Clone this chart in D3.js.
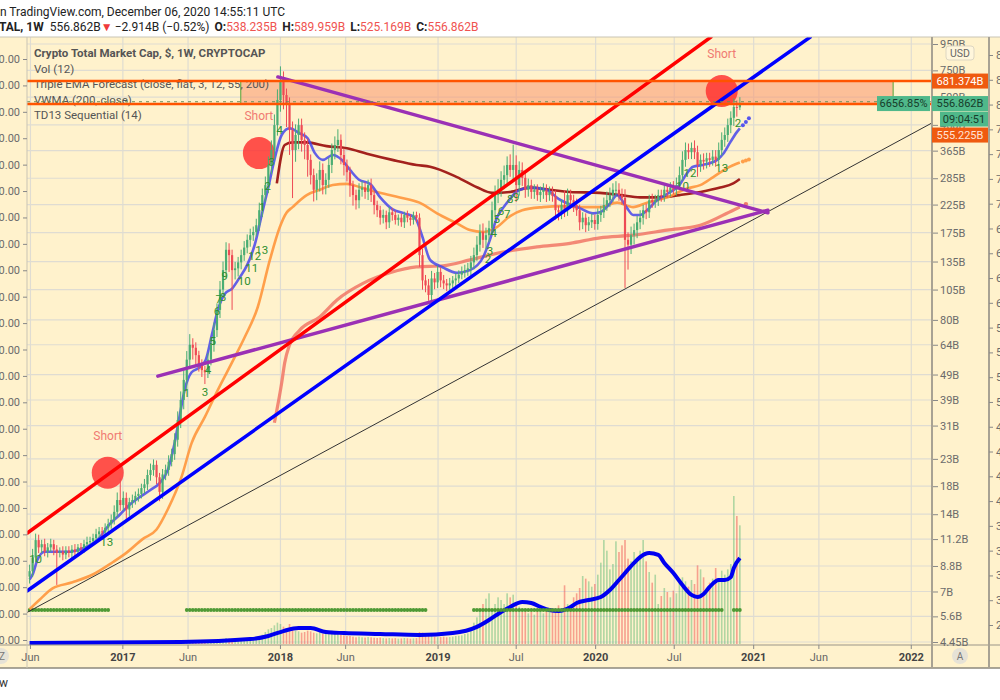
<!DOCTYPE html>
<html>
<head>
<meta charset="utf-8">
<title>Crypto Total Market Cap</title>
<script src="https://cdnjs.cloudflare.com/ajax/libs/d3/7.8.5/d3.min.js"></script>
<style>
  body { margin: 0; background: #fff; }
  svg { display: block; font-family: Roboto, "Liberation Sans", sans-serif; }
</style>
</head>
<body>
<svg id="chart"></svg>
<script>
// Weekly candles, CRYPTOCAP:TOTAL, values in billions USD
var firstWeek = "2016-05-30";
var firstOpen = 8.0;
var closes = [
  8.4, 9.5, 11.1, 10.4, 10.7, 10.0, 10.4, 10.7, 10.2, 9.9,
  10.0, 9.75, 10.1, 9.9, 10.2, 10.0, 10.4, 10.3, 10.7, 10.9,
  11.0, 11.3, 11.7, 12.0, 11.9, 12.4, 12.8, 13.3, 14.3, 15.9,
  15.2, 16.2, 14.6, 15.6, 15.9, 16.5, 16.8, 17.7, 18.3, 19.9,
  20.8, 21.8, 19.5, 17.1, 20.0, 20.8, 22.4, 24.0, 27.3, 32.6,
  39, 46.7, 56, 64, 62.3, 58.3, 53.5, 51, 50, 56,
  64, 73, 87.5, 105, 125, 150, 143, 125, 127, 134,
  143, 153, 164, 171, 176, 187, 214, 245, 268, 321,
  367, 459, 575, 688, 601, 550, 439, 367, 420, 459,
  402, 384, 336, 293, 257, 281, 307, 268, 281, 321,
  367, 384, 402, 351, 321, 301, 268, 245, 234, 257,
  262, 252, 268, 245, 224, 214, 200, 205, 192, 210,
  205, 196, 200, 192, 205, 200, 196, 205, 200, 143,
  114, 109, 100, 116, 112, 123, 114, 111, 109, 111,
  114, 116, 120, 123, 125, 127, 134, 143, 157, 176,
  164, 171, 182, 214, 245, 257, 281, 293, 321, 307,
  321, 268, 307, 286, 257, 268, 252, 257, 245, 252,
  257, 245, 252, 243, 214, 210, 224, 214, 245, 234,
  224, 214, 192, 200, 187, 192, 196, 189, 205, 210,
  224, 234, 245, 257, 257, 245, 239, 164, 157, 171,
  179, 192, 200, 214, 210, 234, 230, 234, 245, 243,
  257, 252, 262, 257, 268, 293, 336, 367, 360, 374,
  360, 321, 336, 331, 341, 336, 346, 336, 367, 402,
  420, 459, 490, 540, 538.235, 556.862
];
// upper / lower wick, percent beyond the candle body
var hiPct = [
  6,8,6,5,4,5,4,5,4,4, 4,5,4,4,4,5,3,4,4,5, 4,4,5,4,4,4,5,5,6,7,
  22,6,5,4,5,4,5,4,5,5, 6,5,4,4,5,5,6,5,6,8, 8,9,8,10,6,5,4,5,4,6,
  6,7,6,8,8,7,6,5,6,5, 5,6,5,6,5,6,7,6,8,8, 9,10,10,13,8,6,7,8,10,6,
  6,7,6,5,6,6,8,6,6,7, 6,8,10,5,6,5,5,4,5,6, 6,5,5,6,4,4,4,5,4,5,
  4,4,3,4,3,4,3,3,3,4, 6,5,6,7,5,6,4,5,4,5, 4,5,4,5,5,5,6,7,8,7,
  8,7,7,8,9,10,8,9,8,10, 20,9,8,7,6,6,5,5,5,5, 6,5,5,5,5,4,5,14,6,5,
  5,6,5,5,4,5,6,5,6,6, 7,8,7,6,8,6,6,8,7,8, 6,6,7,5,6,5,6,5,5,5,
  5,5,5,6,7,8,8,7,6,5, 7,6,5,6,5,5,6,6,7,7, 7,6,6,8,6,5.9
];
var loPct = [
  6,5,4,5,5,4,5,4,5,25, 4,5,4,4,5,4,4,3,4,4, 4,3,4,4,4,4,4,4,4,5,
  5,5,8,6,5,4,5,4,5,5, 5,5,6,8,6,5,5,4,5,6, 7,8,9,8,10,8,6,6,10,5,
  5,6,6,7,6,7,14,30,8,7, 6,5,5,6,5,4,5,6,6,7, 8,8,9,10,12,18,20,35,10,12,
  10,12,14,8,10,9,10,8,8,7, 7,8,6,8,9,8,10,9,8,7, 6,6,7,6,8,6,6,5,6,5,
  5,4,5,4,5,4,5,4,4,10, 8,6,5,6,6,5,6,5,5,4, 4,5,4,4,5,5,6,6,5,6,
  7,8,6,5,6,7,6,8,7,6, 8,14,9,7,7,6,6,6,5,6, 6,6,5,5,8,7,6,6,5,6,
  6,5,7,6,6,5,5,5,5,6, 5,5,6,6,6,5,6,35,20,8, 8,7,6,6,6,5,5,5,5,5,
  5,5,4,4,5,4,5,6,6,6, 6,10,6,7,6,6,5,6,5,5, 6,6,7,7,8,2.4
];
// weekly volume, billions USD
var volumes = [
  3,4,4,3,3,3,4,3,3,4, 3,3,3,4,3,3,4,4,4,5, 5,5,6,6,5,6,7,7,8,10,
  10,9,8,7,7,7,8,8,9,10, 10,11,12,11,10,11,13,15,18,22, 26,28,30,28,26,24,22,20,19,21,
  24,26,30,34,38,45,40,38,36,34, 33,34,36,38,40,45,55,70,90,110, 120,140,160,150,130,120,150,115,100,95,
  85,90,100,95,85,80,90,75,80,90, 100,90,80,70,65,60,60,55,50,55, 50,48,52,50,47,45,48,44,42,45,
  42,44,40,42,45,43,40,42,44,90, 85,70,65,60,55,50,52,55,50,52, 55,60,62,65,75,80,110,160,200,260,
  300,340,380,260,300,350,330,300,380,350, 370,300,280,240,250,230,240,220,260,250, 230,260,240,250,240,290,260,440,300,290,
  350,380,420,510,490,470,430,450,520,610, 780,700,560,600,770,690,740,780,640,620, 690,640,700,780,620,540,460,520,300,360,
  420,390,350,400,380,460,500,470,430,480, 450,590,560,500,420,460,490,570,480,550, 520,560,600,1110,960,890
];

// indicator lines (week index, value)
var ema12Weeks = [0,1,2.6,5,13,16.5,20,23,26.5,30,33,36.4,40,43,45.7,48,49.7,51.3,53.6,56.3,58.3,60.3,62.3,64.6,67,69.5,72,74.5,76.8,78.8,81,83.4,86,89.4,92,94.4,97,100.3,103.3,106,109,112.6,116,120,124,127.5,129.8,132.5,136.8,141.4,145.7,150,152.3,154.6,156.6,159,161,165.6,171,175,182,186.4,188.7,192,194.4,196,197.7,199.7,202,204.3,207.6,212,215,217.5,219.5,222.8,227.5,229.5,231.8,234,235];
var ema12Vals = [7.8,8.15,9.3,10.0,10.0,10.2,10.6,11.3,12.8,14.0,15.2,16.3,17.4,18.5,20.8,26.6,34.1,42.7,50,52.3,56,69.9,87.5,101,106,117,131,157,205,257,336,420,446,426,408,357,336,351,336,307,281,271,240,216,208,200,171,137,128,122,125,140,164,200,218,237,252,262,257,237,218,208,210,227,245,234,218,205,205,214,234,252,268,298,316,321,336,355,393,431,446];
var ema55Weeks = [0,3.3,7.6,14.2,20.9,27.5,32,37.4,42,45.7,50.3,53.6,58,62.3,66.9,71.2,75.5,79.5,82.8,85,87,91.7,96,100.3,105,109.3,115.9,122.5,129,134.8,141.4,145.7,150,154.6,159,163,169.9,176.5,182,188.7,194.4,199.7,204.3,210.9,217.5,221.9,226.2,230.8,235];
var ema55Vals = [5.97,6.5,7.2,7.6,8.15,9.1,9.9,11.2,12.2,14.6,19.6,26.5,33.5,42.7,54.4,68.6,89.8,137,184,209,220,245,257,268,271,263,250,240,229,208,190,179,176,184,203,214,220,222,220,220,229,220,229,240,260,268,288,312,328];
var ema200Weeks = [81.8,84.4,87,91.7,98.3,105,111.6,120,128,132.5,141.4,148,153,159,165.6,172,178.8,188.7,195.4,202,208.6,215,222,228.5,232.8,235];
var ema200Vals = [272,384,393,393,380,373,355,336,321,316,288,263,250,252,262,257,252,250,245,240,240,245,252,262,272,283];
var vwmaWeeks = [81,83.4,84.4,86,89.4,96,101.7,110.3,119.2,128,136.8,145.7,156.6,167.9,178.8,188.7,199.7,210.9,221.9,232.8,235];
var vwmaVals = [31.8,45.4,54.4,63.9,73,82.2,95.7,111,122,128.6,130,137,147,154,159,167,171,179,187,214,220];
var volMaWeeks = [0,50,73,79,84,89,93,98,104,116,129,140,148,152,156,159,163,166,169,172,175,179,181,185,189,192,195,200,202,205,208,210,213,216,219,221,223,225,228,230,232,233,235];
var volMaVals = [8,15,37,60,97,120,120,90,82,75,68,82,128,180,240,278,315,308,278,255,248,278,308,330,352,405,480,608,652,682,668,608,532,442,368,352,375,428,480,480,502,570,645];
// forecast dots of the Triple EMA script
var fcWeeks = [236, 237, 238];
var fcFast = [458, 472, 488];
var fcSlow = [331, 334, 337];

// TD sequential counts
var tdWeeks = [2,25.5,52,58,59,60.6,62,62.6,64,64.6,71,73.5,74.5,76.8,77,78.8,80,82.8,151.7,152.3,153.6,154.6,156,158,159,161,216,218.5,229,234.4];
var tdVals = [9.4,10.9,41.5,41.9,51,66.2,86.6,96.5,98.4,118.6,113,127,142,150,221,266,329,439,138,148,174,198,212,207,237,241,265,299,313,468];
var tdLabels = ["10","13","1","3","4","5","6","7","8","9","10","11","12","13","1","2","3","4","2","3","4","5","6","7","8","9","10","12","13","2"];
var tdDotLevel = 5.93;
var tdDotStart = [0, 52, 78, 147, 233];
var tdDotEnd = [26, 77, 131, 229, 235];

// drawings
var trendNames = ["black", "purpleUp", "purpleDown", "red", "blue"];
var trendFrom = [["2016-05-24", 5.8], ["2017-03-23", 48.3], ["2017-12-26", 707], ["2016-05-24", 11.8], ["2016-05-24", 7.03]];
var trendTo = [["2022-02-18", 468], ["2021-02-03", 214], ["2021-02-03", 209], ["2020-09-24", 1011], ["2021-05-12", 1011]];
var shortDates = ["2016-11-27", "2017-11-12", "2020-10-19"];
var shortVals = [20.3, 357, 623];
var zoneStart = "2017-10-01", zoneEnd = "2021-11-20";
var levelHigh = 681.374, levelLow = 555.225;
var priceLine = 566;
var lastPrice = 556.862;

// axes
var priceTicks = [950, 750, 590, 460, 365, 285, 225, 175, 135, 105, 80, 64, 49, 39, 31, 23, 18, 14, 11.2, 8.8, 7, 5.6, 4.45];
var timeTickDates = ["2016-06-01","2017-01-01","2017-06-01","2018-01-01","2018-06-01","2019-01-01","2019-07-01","2020-01-01","2020-07-01","2021-01-01","2021-06-01","2022-01-01"];
var timeTickLabels = ["Jun","2017","Jun","2018","Jun","2019","Jul","2020","Jul","2021","Jun","2022"];

// ---- layout ----
var W = 1000, H = 700;
var plot = {left: 27, right: 932, top: 37, bottom: 645};
var DAY = 864e5;
var parse = d3.utcParse("%Y-%m-%d");
var week0 = parse(firstWeek).getTime();
function weekDate(i) { return new Date(week0 + i * 7 * DAY); }

var x = d3.scaleUtc()
    .domain([parse("2016-05-24"), parse("2022-02-18")])
    .range([plot.left, plot.right]);
var y = d3.scaleLog().domain([950, 4.45]).range([44, 642]);
var yVol = d3.scaleLinear().domain([0, 1200]).range([644, 484]);

var svg = d3.select("#chart").attr("width", W).attr("height", H);
var defs = svg.append("defs");
defs.append("clipPath").attr("id", "plotClip")
  .append("rect")
  .attr("x", plot.left).attr("y", plot.top)
  .attr("width", plot.right - plot.left).attr("height", plot.bottom - plot.top);
defs.append("clipPath").attr("id", "axisClip")
  .append("rect").attr("x", plot.right).attr("y", plot.top + 1).attr("width", 57).attr("height", 608);

// background
svg.append("rect").attr("x", 0).attr("y", plot.top)
  .attr("width", W).attr("height", 668 - plot.top).attr("fill", "#fff2cc");

// grid
var grid = svg.append("g").attr("clip-path", "url(#plotClip)");
grid.selectAll(".hg").data(priceTicks).enter().append("line")
  .attr("x1", plot.left).attr("x2", plot.right)
  .attr("y1", function(d) { return y(d); }).attr("y2", function(d) { return y(d); })
  .attr("stroke", "#dfdcd2").attr("stroke-width", 1.2);
grid.selectAll(".vg").data(timeTickDates).enter().append("line")
  .attr("x1", function(d) { return x(parse(d)); }).attr("x2", function(d) { return x(parse(d)); })
  .attr("y1", plot.top).attr("y2", plot.bottom)
  .attr("stroke", "#dfdcd2").attr("stroke-width", 1.2);

// candles data
var candles = closes.map(function(c, i) {
  var o = i === 0 ? firstOpen : closes[i - 1];
  var top = Math.max(o, c), bot = Math.min(o, c);
  return {
    date: weekDate(i), open: o, close: c,
    high: top * (1 + hiPct[i] / 100), low: bot * (1 - loPct[i] / 100),
    volume: volumes[i], up: c >= o
  };
});

var g = svg.append("g").attr("clip-path", "url(#plotClip)");

// zone (position tool)
g.append("rect")
  .attr("x", x(parse(zoneStart)))
  .attr("y", y(levelHigh))
  .attr("width", x(parse(zoneEnd)) - x(parse(zoneStart)))
  .attr("height", y(levelLow) - y(levelHigh))
  .attr("fill", "rgba(250,150,110,0.55)")
  .attr("stroke", "#6fae4c").attr("stroke-width", 1.2);

// volume
g.selectAll(".vol").data(candles).enter().append("rect")
  .attr("x", function(d) { return x(d.date) - 0.8; })
  .attr("width", 1.6)
  .attr("y", function(d) { return yVol(d.volume); })
  .attr("height", function(d) { return yVol(0) - yVol(d.volume); })
  .attr("fill", function(d) { return d.up ? "rgba(80,180,110,0.45)" : "rgba(240,80,80,0.5)"; });

function pts(weeks, vals) {
  return weeks.map(function(w, i) { return [weekDate(w), vals[i]]; });
}
var volLine = d3.line()
  .x(function(d) { return x(d[0]); })
  .y(function(d) { return yVol(d[1]); })
  .curve(d3.curveMonotoneX);
g.append("path").datum(pts(volMaWeeks, volMaVals))
  .attr("d", volLine).attr("fill", "none")
  .attr("stroke", "#0000f0").attr("stroke-width", 4).attr("stroke-linejoin", "round");

// TD dots row
var dotWeeks = [];
tdDotStart.forEach(function(s, k) {
  for (var i = s; i <= tdDotEnd[k]; i++) dotWeeks.push(i);
});
g.selectAll(".tdd").data(dotWeeks).enter().append("circle")
  .attr("cx", function(d) { return x(weekDate(d)); })
  .attr("cy", y(tdDotLevel))
  .attr("r", 1.9)
  .attr("fill", "#4f9a35");

// moving averages
var priceLineGen = d3.line()
  .x(function(d) { return x(d[0]); })
  .y(function(d) { return y(d[1]); })
  .curve(d3.curveMonotoneX);
var maSpecs = [
  {w: vwmaWeeks, v: vwmaVals, c: "rgba(240,110,95,0.8)", sw: 3.2},
  {w: ema200Weeks, v: ema200Vals, c: "#a3211d", sw: 2.6},
  {w: ema55Weeks, v: ema55Vals, c: "rgba(255,150,60,0.9)", sw: 2.6},
  {w: ema12Weeks, v: ema12Vals, c: "rgba(70,70,235,0.85)", sw: 2.6}
];
maSpecs.forEach(function(s) {
  g.append("path").datum(pts(s.w, s.v))
    .attr("d", priceLineGen).attr("fill", "none")
    .attr("stroke", s.c).attr("stroke-width", s.sw).attr("stroke-linejoin", "round");
});
g.selectAll(".fcf").data(fcWeeks).enter().append("circle")
  .attr("cx", function(d) { return x(weekDate(d)); })
  .attr("cy", function(d, i) { return y(fcFast[i]); })
  .attr("r", 2).attr("fill", "#5555ee");
g.selectAll(".fcs").data(fcWeeks).enter().append("circle")
  .attr("cx", function(d) { return x(weekDate(d)); })
  .attr("cy", function(d, i) { return y(fcSlow[i]); })
  .attr("r", 2).attr("fill", "#ffa04a");
g.append("circle").attr("cx", x(weekDate(237))).attr("cy", y(226))
  .attr("r", 2.2).attr("fill", "#f07a6a");

// short circles and labels
var shorts = shortDates.map(function(d, i) { return {date: parse(d), value: shortVals[i]}; });
g.selectAll(".shortTxt").data(shorts).enter().append("text")
  .attr("x", function(d) { return x(d.date); })
  .attr("y", function(d) { return y(d.value) - 33; })
  .attr("text-anchor", "middle")
  .attr("font-size", 12)
  .attr("fill", "#f07a72")
  .text("Short");
g.selectAll(".shortC").data(shorts).enter().append("circle")
  .attr("cx", function(d) { return x(d.date); })
  .attr("cy", function(d) { return y(d.value); })
  .attr("r", 16)
  .attr("fill", "rgba(255,45,45,0.82)");

// candles
var cg = g.append("g");
cg.selectAll(".wick").data(candles).enter().append("line")
  .attr("x1", function(d) { return x(d.date); }).attr("x2", function(d) { return x(d.date); })
  .attr("y1", function(d) { return y(d.high); }).attr("y2", function(d) { return y(d.low); })
  .attr("stroke", function(d) { return d.up ? "#4aad73" : "#ee4a55"; })
  .attr("stroke-width", 1);
cg.selectAll(".body").data(candles).enter().append("rect")
  .attr("x", function(d) { return x(d.date) - 1.1; })
  .attr("width", 2.2)
  .attr("y", function(d) { return y(Math.max(d.open, d.close)); })
  .attr("height", function(d) { return Math.max(1, Math.abs(y(d.open) - y(d.close))); })
  .attr("fill", function(d) { return d.up ? "#4aad73" : "#ee4a55"; });

// TD counts
g.selectAll(".td").data(tdLabels).enter().append("text")
  .attr("x", function(d, i) { return x(weekDate(tdWeeks[i])); })
  .attr("y", function(d, i) { return y(tdVals[i]); })
  .attr("dy", "0.35em")
  .attr("text-anchor", "middle")
  .attr("font-size", 11.5)
  .attr("fill", "#2f8f2f")
  .text(function(d) { return d; });

// trend lines
var trendStyle = {
  black: {c: "#333", w: 1},
  purpleUp: {c: "#9b30b5", w: 3.5},
  purpleDown: {c: "#9b30b5", w: 3.5},
  red: {c: "#ff0000", w: 3.5},
  blue: {c: "#0000ff", w: 3.5}
};
trendNames.forEach(function(n, i) {
  var a = trendFrom[i], b = trendTo[i];
  g.append("line")
    .attr("x1", x(parse(a[0]))).attr("y1", y(a[1]))
    .attr("x2", x(parse(b[0]))).attr("y2", y(b[1]))
    .attr("stroke", trendStyle[n].c).attr("stroke-width", trendStyle[n].w)
    .attr("stroke-linecap", "round");
});

// legend
var legend = svg.append("g").attr("font-size", 11.5).attr("fill", "#555");
var legendLines = ["Crypto Total Market Cap, $, 1W, CRYPTOCAP", "Vol (12)",
  "Triple EMA Forecast (close, flat, 3, 12, 55, 200)", "VWMA (200, close)", "TD13 Sequential (14)"];
legend.selectAll("text").data(legendLines).enter().append("text")
  .attr("x", 34)
  .attr("y", function(d, i) { return 57 + i * 15.5; })
  .attr("font-weight", function(d, i) { return i === 0 ? "bold" : "normal"; })
  .text(function(d) { return d; });

// horizontal levels + price line
var lv = svg.append("g").attr("clip-path", "url(#plotClip)");
lv.append("line")
  .attr("x1", plot.left).attr("x2", plot.right)
  .attr("y1", y(priceLine)).attr("y2", y(priceLine))
  .attr("stroke", "#6a8d5a").attr("stroke-width", 1).attr("stroke-dasharray", "3,4");
[levelHigh, levelLow].forEach(function(v) {
  lv.append("line")
    .attr("x1", plot.left).attr("x2", plot.right)
    .attr("y1", y(v)).attr("y2", y(v))
    .attr("stroke", "#ff5400").attr("stroke-width", 2.5);
});

// frame lines
svg.append("line").attr("x1", 0).attr("x2", W).attr("y1", plot.top).attr("y2", plot.top)
  .attr("stroke", "#c9c4b4").attr("stroke-width", 1);
svg.append("line").attr("x1", 0).attr("x2", W).attr("y1", plot.bottom).attr("y2", plot.bottom)
  .attr("stroke", "#9a9588").attr("stroke-width", 1);
svg.append("line").attr("x1", 0).attr("x2", W).attr("y1", 668).attr("y2", 668)
  .attr("stroke", "#8d887c").attr("stroke-width", 1.5);
[plot.left, plot.right, 989].forEach(function(xx, i) {
  svg.append("line").attr("x1", xx).attr("x2", xx).attr("y1", plot.top).attr("y2", 668)
    .attr("stroke", i === 0 ? "#c9c4b4" : "#a8a293").attr("stroke-width", i === 0 ? 1 : 2);
});

// right price axis
var yAxis = d3.axisRight(y).tickValues(priceTicks)
  .tickFormat(function(d) { return d + "B"; }).tickSize(5);
var ya = svg.append("g").attr("clip-path", "url(#axisClip)")
  .append("g").attr("transform", "translate(" + plot.right + ",0)")
  .call(yAxis);
ya.select(".domain").remove();
ya.selectAll("line").attr("stroke", "#888").attr("transform", "translate(1,0)");
ya.selectAll("text").attr("fill", "#6b6b6b").attr("font-size", 11)
  .attr("font-family", "Roboto, sans-serif");

// left axis (cut off)
var yLeft = d3.scaleLinear().domain([1200, 2300]).range([640, 59]);
var la = svg.append("g").attr("transform", "translate(" + plot.left + ",0)")
  .call(d3.axisLeft(yLeft).tickValues(d3.range(1200, 2301, 50))
    .tickFormat(function(d) { return d.toFixed(2); }).tickSize(4));
la.select(".domain").remove();
la.selectAll("line").attr("stroke", "#888");
la.selectAll("text").attr("fill", "#6b6b6b").attr("font-size", 11).attr("font-family", "Roboto, sans-serif");

// far right axis (cut off)
var yFar = d3.scaleLinear().domain([27.5, 85]).range([625, 55]);
var fa = svg.append("g").attr("transform", "translate(989,0)")
  .call(d3.axisRight(yFar).tickValues(d3.range(27.5, 85.1, 2.5))
    .tickFormat(function(d) { return d.toFixed(2); }).tickSize(4));
fa.select(".domain").remove();
fa.selectAll("line").attr("stroke", "#888");
fa.selectAll("text").attr("fill", "#6b6b6b").attr("font-size", 11).attr("font-family", "Roboto, sans-serif");

// USD badge
svg.append("rect").attr("x", 946).attr("y", 46).attr("width", 28).attr("height", 14).attr("rx", 3)
  .attr("fill", "#fff6dc").attr("stroke", "#ddd6c2");
svg.append("text").attr("x", 960).attr("y", 57).attr("text-anchor", "middle")
  .attr("font-size", 10.5).attr("fill", "#666").text("USD");

// price tags
function tag(x0, w, yc, fill, color, txt) {
  svg.append("rect").attr("x", x0).attr("y", yc - 7.5).attr("width", w).attr("height", 15).attr("fill", fill);
  svg.append("text").attr("x", x0 + w / 2).attr("y", yc).attr("dy", "0.35em")
    .attr("text-anchor", "middle").attr("font-size", 11).attr("fill", color).text(txt);
}
var yLast = y(lastPrice);
tag(plot.right, 56, y(levelHigh), "#ef5a10", "#fff", levelHigh.toFixed(3) + "B");
tag(plot.right, 56, yLast, "#4fb88a", "#173d2b", lastPrice.toFixed(3) + "B");
tag(plot.right + 8, 48, yLast + 15.5, "#4fb88a", "#173d2b", "09:04:51");
tag(plot.right, 56, yLast + 31.5, "#ef5a10", "#ffe3d6", levelLow.toFixed(3) + "B");
tag(877, 53, yLast, "#4fb88a", "#173d2b", "6656.85%");

// time axis
var ta = svg.append("g").attr("font-size", 11);
ta.selectAll("text").data(timeTickDates).enter().append("text")
  .attr("x", function(d) { return x(parse(d)); })
  .attr("y", 661)
  .attr("text-anchor", "middle")
  .attr("font-weight", function(d, i) { return /^\d/.test(timeTickLabels[i]) ? "bold" : "normal"; })
  .attr("fill", function(d, i) { return /^\d/.test(timeTickLabels[i]) ? "#444" : "#666"; })
  .text(function(d, i) { return timeTickLabels[i]; });
ta.selectAll("line").data(timeTickDates).enter().append("line")
  .attr("x1", function(d) { return x(parse(d)); }).attr("x2", function(d) { return x(parse(d)); })
  .attr("y1", plot.bottom).attr("y2", plot.bottom + 4).attr("stroke", "#888");

svg.append("circle").attr("cx", 960).attr("cy", 656).attr("r", 8).attr("fill", "#e6e2d6");
svg.append("text").attr("x", 960).attr("y", 656).attr("dy", "0.35em").attr("text-anchor", "middle")
  .attr("font-size", 10).attr("fill", "#777").text("A");
svg.append("circle").attr("cx", 1).attr("cy", 656).attr("r", 8).attr("fill", "#e6e2d6");
svg.append("text").attr("x", 2).attr("y", 656).attr("dy", "0.35em").attr("text-anchor", "middle")
  .attr("font-size", 10).attr("fill", "#777").text("Z");

// header
svg.append("text").attr("x", 0).attr("y", 16).attr("font-size", 12).attr("fill", "#222")
  .text("n TradingView.com, December 06, 2020 14:55:11 UTC");
var h2 = svg.append("text").attr("x", -1).attr("y", 31).attr("font-size", 12).attr("fill", "#222");
h2.append("tspan").attr("font-weight", "bold").text("TAL, 1W");
h2.append("tspan").attr("dx", 6).text("556.862B");
h2.append("tspan").attr("fill", "#ef3b3b").text("▼");
h2.append("tspan").attr("dx", 2).text("−2.914B (−0.52%)");
[["O:", "538.235B"], ["H:", "589.959B"], ["L:", "525.169B"], ["C:", "556.862B"]].forEach(function(p) {
  h2.append("tspan").attr("dx", 5).attr("font-weight", "bold").text(p[0]);
  h2.append("tspan").attr("fill", "#ef5350").text(p[1]);
});
svg.append("text").attr("x", -1).attr("y", 687).attr("font-size", 12).attr("fill", "#333").text("w");
</script>
</body>
</html>
